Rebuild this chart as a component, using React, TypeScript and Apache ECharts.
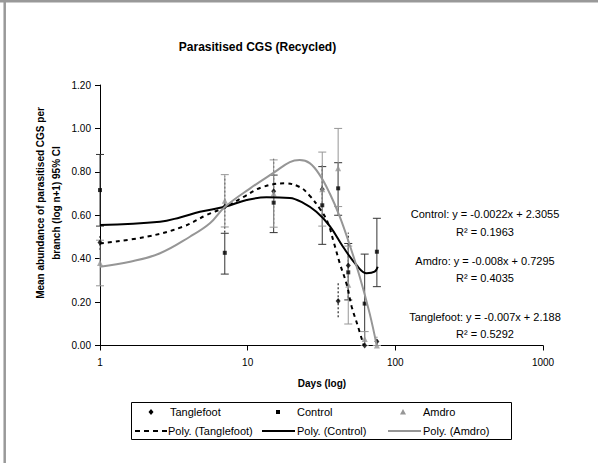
import React, { useEffect, useRef } from 'react';
import * as echarts from 'echarts';

// ---- data ----
const days = [1, 7, 15, 32, 41, 48, 62, 75];

const tanglefootMean = [0.475, 0.64, 0.71, 0.72, 0.205, 0.368, 0.0, 0.018];
const tanglefootLow = [0.44, 0.52, 0.56, 0.6, 0.13, 0.22, 0.0, 0.0];
const tanglefootHigh = [0.51, 0.78, 0.86, 0.84, 0.29, 0.52, 0.0, 0.04];

const controlMean = [0.716, 0.427, 0.658, 0.646, 0.724, 0.337, 0.193, 0.432];
const controlLow = [0.55, 0.329, 0.52, 0.466, 0.6, 0.21, 0.0, 0.271];
const controlHigh = [0.88, 0.517, 0.785, 0.824, 0.842, 0.47, 0.421, 0.586];

const amdroMean = [0.38, 0.667, 0.7, 0.72, 0.816, 0.28, 0.03, 0.0];
const amdroLow = [0.275, 0.546, 0.545, 0.55, 0.64, 0.099, 0.0, 0.0];
const amdroHigh = [0.485, 0.787, 0.855, 0.891, 1.0, 0.458, 0.064, 0.0];

// polynomial trendlines
const trendTanglefootDays = [1, 2.07, 3.64, 5.27, 7, 9.4, 12.5, 17.8, 22.5, 26.3, 30.8, 34.7, 38.5, 42, 46.9, 50.6, 55.7, 61.1];
const trendTanglefootVals = [0.47, 0.501, 0.547, 0.601, 0.636, 0.685, 0.729, 0.747, 0.73, 0.69, 0.63, 0.57, 0.47, 0.38, 0.28, 0.18, 0.09, 0.0];

const trendControlDays = [1, 2.55, 3.48, 4.75, 7, 9.84, 13.4, 19.3, 23.6, 29.2, 36, 44.2, 54.5, 63.9, 72.4, 76];
const trendControlVals = [0.555, 0.57, 0.59, 0.616, 0.639, 0.67, 0.683, 0.68, 0.658, 0.616, 0.55, 0.455, 0.371, 0.333, 0.34, 0.363];

const trendAmdroDays = [1, 1.6, 2.55, 4.06, 5.55, 7, 10.4, 15.3, 19.3, 22.5, 26.3, 30.8, 36, 42.1, 49.1, 57.4, 67, 74.8];
const trendAmdroVals = [0.363, 0.386, 0.425, 0.501, 0.563, 0.638, 0.724, 0.8, 0.845, 0.854, 0.84, 0.785, 0.7, 0.593, 0.463, 0.317, 0.148, 0.0];

const yTicks = [0, 0.2, 0.4, 0.6, 0.8, 1.0, 1.2];
const xTicks = [1, 10, 100, 1000];

const seriesNames = ['Tanglefoot', 'Control', 'Amdro'];
const trendNames = ['Poly. (Tanglefoot)', 'Poly. (Control)', 'Poly. (Amdro)'];
const equations = [
  'Control: y = -0.0022x + 2.3055',
  'R² = 0.1963',
  'Amdro: y = -0.008x + 0.7295',
  'R² = 0.4035',
  'Tanglefoot: y = -0.007x + 2.188',
  'R² = 0.5292',
];

const FONT = '"Liberation Sans", Arial, sans-serif';
const GRAY = '#969696';

const zip2 = (a: number[], b: number[]) => a.map((v, i) => [v, b[i]]);
const zip3 = (a: number[], b: number[], c: number[]) => a.map((v, i) => [v, b[i], c[i]]);

const errorRender = (color: string, cap: number, dash: number[] | null) => (params: any, api: any) => {
  const x = api.value(0);
  const lo = api.value(1);
  const hi = api.value(2);
  const pLo = api.coord([x, lo]);
  const pHi = api.coord([x, hi]);
  const style: any = { stroke: color, lineWidth: 1, fill: 'none' };
  if (dash) style.lineDash = dash;
  const children: any[] = [
    { type: 'line', shape: { x1: pLo[0], y1: pLo[1], x2: pHi[0], y2: pHi[1] }, style },
  ];
  if (cap > 0) {
    children.push({ type: 'line', shape: { x1: pHi[0] - cap, y1: pHi[1], x2: pHi[0] + cap, y2: pHi[1] }, style });
    children.push({ type: 'line', shape: { x1: pLo[0] - cap, y1: pLo[1], x2: pLo[0] + cap, y2: pLo[1] }, style });
  }
  return { type: 'group', children };
};

export default function App() {
  const ref = useRef<HTMLDivElement>(null);

  useEffect(() => {
    if (!ref.current) return;
    const chart = echarts.init(ref.current, null, { renderer: 'svg' });

    const legendRow1 = 412;
    const legendRow2 = 431;
    const legendText = { fontSize: 11, fontFamily: FONT, fill: '#000' };

    const option: any = {
      animation: false,
      backgroundColor: '#fff',
      grid: { left: 100, right: 55, top: 85, bottom: 117.5, containLabel: false },
      xAxis: {
        type: 'log',
        logBase: 10,
        min: xTicks[0],
        max: xTicks[xTicks.length - 1],
        axisLine: { lineStyle: { color: '#000', width: 1 } },
        axisTick: { show: true, length: 5, lineStyle: { color: '#000' } },
        minorTick: { show: false },
        splitLine: { show: false },
        axisLabel: {
          fontSize: 10,
          fontFamily: FONT,
          color: '#000',
          margin: 12,
          formatter: (v: number) => String(Math.round(v)),
        },
      },
      yAxis: {
        type: 'value',
        min: yTicks[0],
        max: yTicks[yTicks.length - 1],
        interval: 0.2,
        axisLine: { show: true, lineStyle: { color: '#000', width: 1 } },
        axisTick: { show: true, length: 5, lineStyle: { color: '#000' } },
        splitLine: { show: false },
        axisLabel: {
          fontSize: 10,
          fontFamily: FONT,
          color: '#000',
          margin: 9,
          formatter: (v: number) => v.toFixed(2),
        },
      },
      series: [
        {
          name: 'Tanglefoot CI',
          type: 'custom',
          renderItem: errorRender('#000', 0, [2, 2]),
          encode: { x: 0, y: [1, 2] },
          data: zip3(days, tanglefootLow, tanglefootHigh),
          z: 2,
        },
        {
          name: 'Control CI',
          type: 'custom',
          renderItem: errorRender('#333', 4, null),
          encode: { x: 0, y: [1, 2] },
          data: zip3(days, controlLow, controlHigh),
          z: 2,
        },
        {
          name: 'Amdro CI',
          type: 'custom',
          renderItem: errorRender(GRAY, 4, null),
          encode: { x: 0, y: [1, 2] },
          data: zip3(days, amdroLow, amdroHigh),
          z: 2,
        },
        {
          name: seriesNames[0],
          type: 'scatter',
          symbol: 'diamond',
          symbolSize: [5, 6],
          itemStyle: { color: '#000' },
          data: zip2(days, tanglefootMean),
          z: 3,
        },
        {
          name: seriesNames[1],
          type: 'scatter',
          symbol: 'rect',
          symbolSize: 4,
          itemStyle: { color: '#000' },
          data: zip2(days, controlMean),
          z: 3,
        },
        {
          name: seriesNames[2],
          type: 'scatter',
          symbol: 'triangle',
          symbolSize: 6,
          itemStyle: { color: GRAY },
          data: zip2(days, amdroMean),
          z: 3,
        },
        {
          name: trendNames[0],
          type: 'line',
          smooth: 0.4,
          showSymbol: false,
          lineStyle: { color: '#000', width: 2, type: [4, 4] },
          data: zip2(trendTanglefootDays, trendTanglefootVals),
          z: 4,
        },
        {
          name: trendNames[1],
          type: 'line',
          smooth: 0.4,
          showSymbol: false,
          lineStyle: { color: '#000', width: 2 },
          data: zip2(trendControlDays, trendControlVals),
          z: 4,
        },
        {
          name: trendNames[2],
          type: 'line',
          smooth: 0.4,
          showSymbol: false,
          lineStyle: { color: GRAY, width: 2 },
          data: zip2(trendAmdroDays, trendAmdroVals),
          z: 4,
        },
      ],
      graphic: [
        // outer chart-area border fragments
        { type: 'line', shape: { x1: 0, y1: 1.3, x2: 598, y2: 1.3 }, style: { stroke: '#999', lineWidth: 2.5 } },
        { type: 'line', shape: { x1: 4.7, y1: 0, x2: 4.7, y2: 463 }, style: { stroke: '#999', lineWidth: 2.5 } },
        // title
        {
          type: 'text', x: 257.5, y: 47,
          style: { text: 'Parasitised CGS (Recycled)', fontSize: 12, fontWeight: 'bold', fontFamily: FONT, fill: '#000', align: 'center', verticalAlign: 'middle' },
        },
        // y axis title
        {
          type: 'text', x: 48, y: 203, rotation: Math.PI / 2,
          style: {
            text: 'Mean abundance of parasitised CGS per\nbranch (log n+1) 95% CI',
            fontSize: 10, fontWeight: 'bold', fontFamily: FONT, fill: '#000',
            align: 'center', verticalAlign: 'middle', lineHeight: 16,
          },
        },
        // x axis title
        {
          type: 'text', x: 322, y: 383,
          style: { text: 'Days (log)', fontSize: 10, fontWeight: 'bold', fontFamily: FONT, fill: '#000', align: 'center', verticalAlign: 'middle' },
        },
        // equations
        ...[214.3, 231.7, 261, 278.3, 317.3, 334.3].map((y, i) => ({
          type: 'text', x: 485, y,
          style: { text: equations[i], fontSize: 11, fontFamily: FONT, fill: '#000', align: 'center', verticalAlign: 'middle' },
        })),
        // legend box
        { type: 'rect', shape: { x: 131.5, y: 402.5, width: 380, height: 37 }, style: { fill: '#fff', stroke: '#000', lineWidth: 1 }, z: 10 },
        // row 1 markers
        { type: 'polygon', shape: { points: [[151, legendRow1 - 3], [153.5, legendRow1], [151, legendRow1 + 3], [148.5, legendRow1]] }, style: { fill: '#000' }, z: 11 },
        { type: 'rect', shape: { x: 276, y: legendRow1 - 2, width: 4, height: 4 }, style: { fill: '#000' }, z: 11 },
        { type: 'polygon', shape: { points: [[403, legendRow1 - 3], [406, legendRow1 + 2.5], [400, legendRow1 + 2.5]] }, style: { fill: GRAY }, z: 11 },
        { type: 'text', x: 170, y: legendRow1, style: { ...legendText, text: seriesNames[0], verticalAlign: 'middle' }, z: 11 },
        { type: 'text', x: 297, y: legendRow1, style: { ...legendText, text: seriesNames[1], verticalAlign: 'middle' }, z: 11 },
        { type: 'text', x: 423, y: legendRow1, style: { ...legendText, text: seriesNames[2], verticalAlign: 'middle' }, z: 11 },
        // row 2 lines
        { type: 'line', shape: { x1: 135, y1: legendRow2, x2: 167, y2: legendRow2 }, style: { stroke: '#000', lineWidth: 2, lineDash: [5, 4] }, z: 11 },
        { type: 'line', shape: { x1: 262, y1: legendRow2, x2: 295, y2: legendRow2 }, style: { stroke: '#000', lineWidth: 2 }, z: 11 },
        { type: 'line', shape: { x1: 388, y1: legendRow2, x2: 421, y2: legendRow2 }, style: { stroke: GRAY, lineWidth: 2 }, z: 11 },
        { type: 'text', x: 168, y: legendRow2, style: { ...legendText, text: trendNames[0], verticalAlign: 'middle' }, z: 11 },
        { type: 'text', x: 297, y: legendRow2, style: { ...legendText, text: trendNames[1], verticalAlign: 'middle' }, z: 11 },
        { type: 'text', x: 423, y: legendRow2, style: { ...legendText, text: trendNames[2], verticalAlign: 'middle' }, z: 11 },
      ],
    };

    chart.setOption(option);
    return () => chart.dispose();
  }, []);

  return (
    <div
      ref={ref}
      style={{ position: 'absolute', left: 0, top: 0, width: 598, height: 463 }}
    />
  );
}
